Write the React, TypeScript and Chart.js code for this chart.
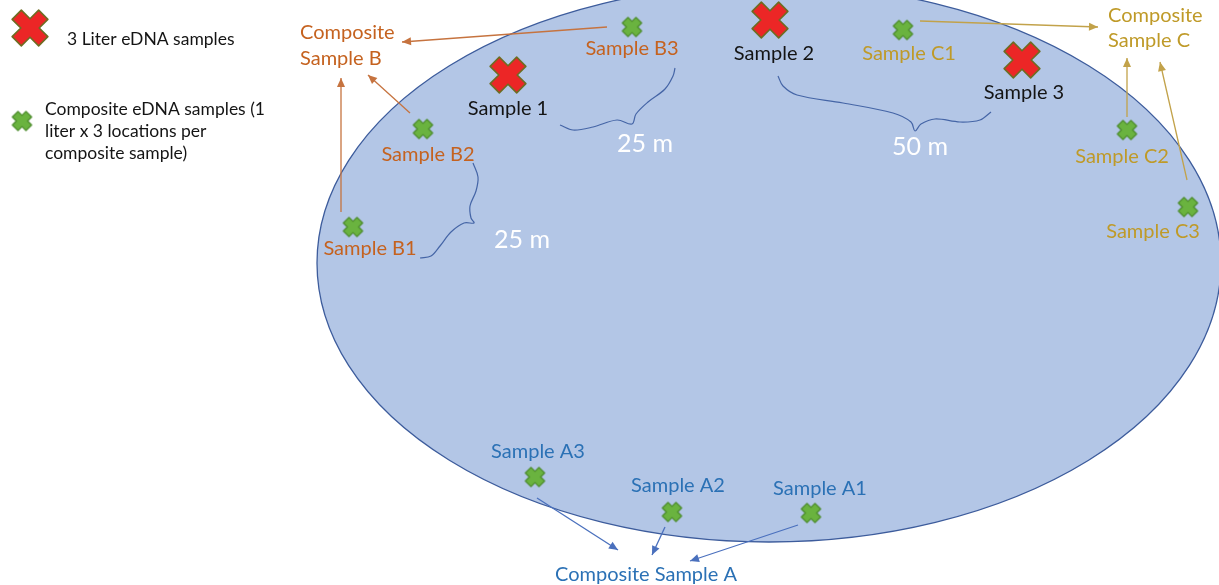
import { useEffect, useRef } from "react";
import { Chart, registerables } from "chart.js";

Chart.register(...registerables);

// ---- Diagram data (in a 1219 x 585 coordinate space) ----
const ellipseCenter = { x: 769, y: 263 };
const ellipseRadii = { x: 452, y: 279 };

const literSamples = [
  { x: 30, y: 28 },
  { x: 508, y: 75 },
  { x: 770, y: 20 },
  { x: 1022, y: 60 },
];

const compositeSamples = [
  { x: 22, y: 121 },
  { x: 632, y: 27 },
  { x: 903, y: 30 },
  { x: 423, y: 129 },
  { x: 353, y: 227 },
  { x: 1127, y: 130 },
  { x: 1188, y: 207 },
  { x: 535, y: 477 },
  { x: 672, y: 512 },
  { x: 811, y: 513 },
];

const arrowsB = [
  [[607, 27], [402, 42]],
  [[410, 113], [368, 75]],
  [[341, 212], [341, 78]],
];
const arrowsC = [
  [[920, 21], [1098, 27]],
  [[1127, 117], [1127, 58]],
  [[1187, 180], [1160, 62]],
];
const arrowsA = [
  [[537, 498], [618, 550]],
  [[665, 527], [652, 555]],
  [[798, 525], [690, 561]],
];

const brace25Top = [[560, 125], [573, 130], [593, 127], [617, 120], [632, 124], [636, 114], [648, 102], [665, 89], [673, 76], [675, 68]];
const brace50 = [[778, 76], [783, 86], [797, 95], [843, 103], [893, 113], [911, 122], [915, 131], [921, 124], [935, 119], [960, 122], [980, 120], [991, 112]];
const brace25Left = [[473, 163], [478, 177], [476, 191], [470, 206], [471, 218], [474, 223], [464, 223], [451, 232], [440, 246], [431, 256], [420, 258]];

const blackLabels = [
  { text: "Sample 1", x: 508, y: 115 },
  { text: "Sample 2", x: 774, y: 60 },
  { text: "Sample 3", x: 1024, y: 99 },
];
const orangeLabels = [
  { text: "Sample B3", x: 632, y: 55 },
  { text: "Sample B2", x: 428, y: 161 },
  { text: "Sample B1", x: 370, y: 255 },
];
const goldLabels = [
  { text: "Sample C1", x: 909, y: 60 },
  { text: "Sample C2", x: 1122, y: 163 },
  { text: "Sample C3", x: 1153, y: 238 },
];
const blueLabels = [
  { text: "Sample A3", x: 538, y: 458 },
  { text: "Sample A2", x: 678, y: 492 },
  { text: "Sample A1", x: 820, y: 495 },
  { text: "Composite Sample A", x: 646, y: 581 },
];
const compositeBLines = [
  { text: "Composite", x: 300, y: 39 },
  { text: "Sample B", x: 300, y: 65 },
];
const compositeCLines = [
  { text: "Composite", x: 1108, y: 22 },
  { text: "Sample C", x: 1108, y: 47 },
];
const distanceLabels = [
  { text: "25 m", x: 645, y: 152 },
  { text: "50 m", x: 920, y: 155 },
  { text: "25 m", x: 522, y: 248 },
];
const legendLines = [
  { text: "3 Liter eDNA samples", x: 67, y: 45 },
  { text: "Composite eDNA samples (1", x: 45, y: 115 },
  { text: "liter x 3 locations per", x: 45, y: 137 },
  { text: "composite sample)", x: 45, y: 159 },
];

// ---- Styles ----
const FONT = "Lato, 'Open Sans', sans-serif";
const ORANGE = "#c5621f";
const GOLD = "#bf9a28";
const BLUE = "#2b71b5";
const BLACK = "#141414";

function makeCross(w: number, thick: number, fill: string, stroke: string, lw: number) {
  const pad = 2;
  const c = document.createElement("canvas");
  const s = Math.ceil(w + pad * 2);
  c.width = s;
  c.height = s;
  const ctx = c.getContext("2d")!;
  ctx.translate(s / 2, s / 2);
  ctx.rotate(Math.PI / 4);
  const t = thick / 2;
  const h = (w / 2) * Math.SQRT2 - t - lw;
  ctx.beginPath();
  const pts = [
    [t, h], [t, t], [h, t], [h, -t], [t, -t], [t, -h],
    [-t, -h], [-t, -t], [-h, -t], [-h, t], [-t, t], [-t, h],
  ];
  pts.forEach(([px, py], i) => (i === 0 ? ctx.moveTo(px, py) : ctx.lineTo(px, py)));
  ctx.closePath();
  ctx.fillStyle = fill;
  ctx.fill();
  ctx.lineJoin = "round";
  ctx.lineWidth = lw;
  ctx.strokeStyle = stroke;
  ctx.stroke();
  return c;
}

const toXY = (arr: number[][]) => arr.map(([x, y]) => ({ x, y }));

export default function App() {
  const ref = useRef<HTMLCanvasElement | null>(null);

  useEffect(() => {
    document.body.style.margin = "0";
    const canvas = ref.current!;
    const redCross = makeCross(38, 13, "#ec2626", "#6e6c22", 1.6);
    const greenCross = makeCross(21, 8, "#6ab33f", "#4b8a2b", 1.2);

    const arrowDs = (segs: number[][][], color: string) =>
      segs.map((seg) => ({
        type: "line" as const,
        data: toXY(seg),
        borderColor: color,
        backgroundColor: color,
        borderWidth: 1.3,
        pointRadius: 0,
        showLine: true,
        arrow: true,
        order: 3,
        clip: false as any,
      }));
    const braceDs = (pts: number[][]) => ({
      type: "line" as const,
      data: toXY(pts),
      borderColor: "#4565a6",
      borderWidth: 1.2,
      pointRadius: 0,
      tension: 0.35,
      showLine: true,
      order: 4,
      clip: false as any,
    });

    const ellipsePlugin = {
      id: "lakeEllipse",
      beforeDatasetsDraw(chart: any) {
        const { ctx, scales } = chart;
        const cx = scales.x.getPixelForValue(ellipseCenter.x);
        const cy = scales.y.getPixelForValue(ellipseCenter.y);
        const rx = Math.abs(scales.x.getPixelForValue(ellipseCenter.x + ellipseRadii.x) - cx);
        const ry = Math.abs(scales.y.getPixelForValue(ellipseCenter.y + ellipseRadii.y) - cy);
        ctx.save();
        ctx.beginPath();
        ctx.ellipse(cx, cy, rx, ry, 0, 0, Math.PI * 2);
        ctx.fillStyle = "#b3c6e6";
        ctx.fill();
        ctx.lineWidth = 1.3;
        ctx.strokeStyle = "#3d5c9c";
        ctx.stroke();
        ctx.restore();
      },
    };

    const arrowPlugin = {
      id: "arrowHeads",
      afterDatasetsDraw(chart: any) {
        const { ctx } = chart;
        chart.data.datasets.forEach((ds: any, i: number) => {
          if (!ds.arrow) return;
          const meta = chart.getDatasetMeta(i);
          const pts = meta.data;
          const a = pts[pts.length - 2];
          const b = pts[pts.length - 1];
          const ang = Math.atan2(b.y - a.y, b.x - a.x);
          const len = 9;
          const half = 4;
          ctx.save();
          ctx.translate(b.x, b.y);
          ctx.rotate(ang);
          ctx.beginPath();
          ctx.moveTo(0, 0);
          ctx.lineTo(-len, -half);
          ctx.lineTo(-len, half);
          ctx.closePath();
          ctx.fillStyle = ds.borderColor;
          ctx.fill();
          ctx.restore();
        });
      },
    };

    const textPlugin = {
      id: "diagramText",
      afterDatasetsDraw(chart: any) {
        const { ctx, scales } = chart;
        const draw = (
          items: { text: string; x: number; y: number }[],
          color: string,
          size: number,
          align: CanvasTextAlign
        ) => {
          ctx.save();
          ctx.font = `${size}px ${FONT}`;
          ctx.fillStyle = color;
          ctx.textAlign = align;
          ctx.textBaseline = "alphabetic";
          items.forEach((it) => {
            ctx.fillText(it.text, scales.x.getPixelForValue(it.x), scales.y.getPixelForValue(it.y));
          });
          ctx.restore();
        };
        draw(blackLabels, BLACK, 20, "center");
        draw(orangeLabels, ORANGE, 20, "center");
        draw(goldLabels, GOLD, 20, "center");
        draw(blueLabels, BLUE, 20, "center");
        draw(compositeBLines, ORANGE, 20, "left");
        draw(compositeCLines, GOLD, 20, "left");
        draw(distanceLabels, "#ffffff", 25, "center");
        draw(legendLines, BLACK, 17.5, "left");
      },
    };

    const chart = new Chart(canvas, {
      type: "scatter",
      data: {
        datasets: [
          {
            data: literSamples,
            pointStyle: redCross as any,
            order: 1,
            clip: false as any,
          },
          {
            data: compositeSamples,
            pointStyle: greenCross as any,
            order: 1,
            clip: false as any,
          },
          ...arrowDs(arrowsB, "#c6733f"),
          ...arrowDs(arrowsC, "#c2a24a"),
          ...arrowDs(arrowsA, "#4a70bd"),
          braceDs(brace25Top),
          braceDs(brace50),
          braceDs(brace25Left),
        ] as any,
      },
      options: {
        animation: false,
        responsive: true,
        maintainAspectRatio: false,
        events: [],
        layout: { padding: 0, autoPadding: false },
        plugins: { legend: { display: false }, tooltip: { enabled: false } },
        scales: {
          x: { type: "linear", min: 0, max: 1219, display: false },
          y: { type: "linear", min: 0, max: 585, reverse: true, display: false },
        },
      },
      plugins: [ellipsePlugin, arrowPlugin, textPlugin],
    });
    return () => chart.destroy();
  }, []);

  return (
    <div style={{ position: "fixed", left: 0, top: 0, width: 1219, height: 585, background: "#ffffff" }}>
      <canvas ref={ref} />
    </div>
  );
}
